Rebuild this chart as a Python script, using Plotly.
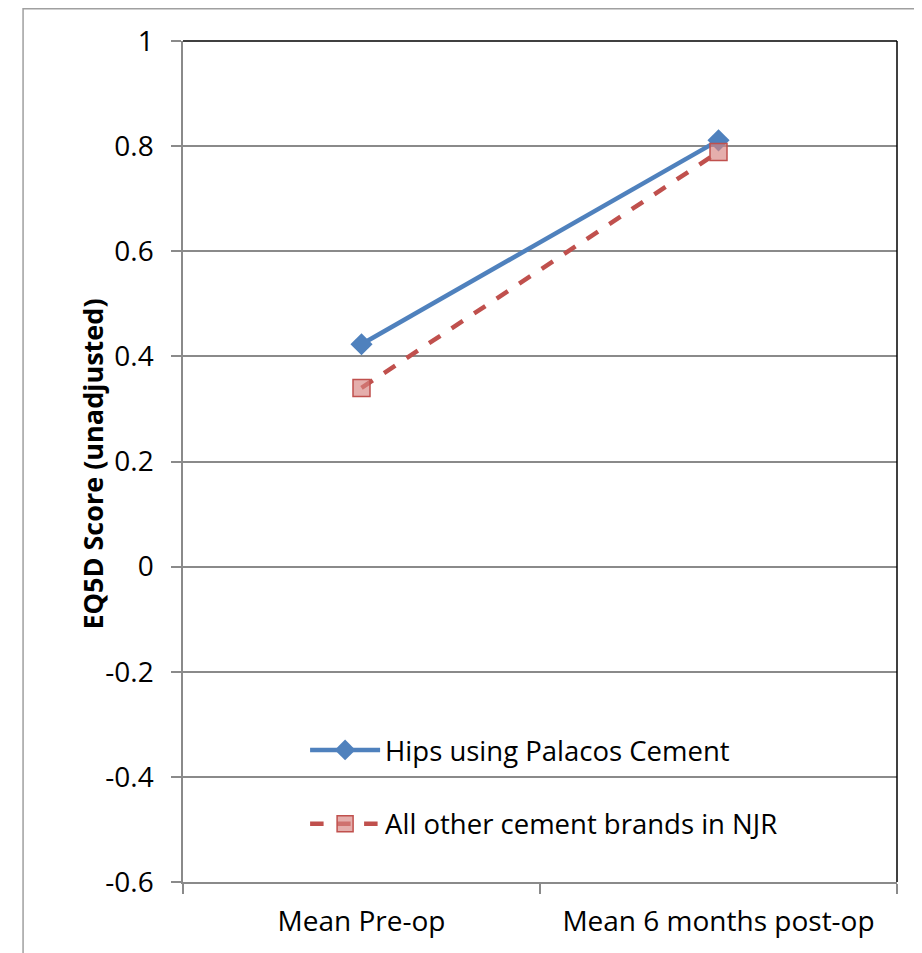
import plotly.graph_objects as go

categories = ["Mean Pre-op", "Mean 6 months post-op"]
palacos = [0.423, 0.811]
others = [0.340, 0.789]
series_names = ["Hips using Palacos Cement", "All other cement brands in NJR"]
y_ticks = [1, 0.8, 0.6, 0.4, 0.2, 0, -0.2, -0.4, -0.6]
y_labels = ["1", "0.8", "0.6", "0.4", "0.2", "0", "-0.2", "-0.4", "-0.6"]
y_title = "EQ5D Score (unadjusted)"

FONT = "Open Sans"
GRID = "#8a8a8a"
FS = 28

fig = go.Figure()
fig.add_trace(go.Scatter(
    x=categories, y=palacos, name=series_names[0], mode="lines+markers",
    line=dict(color="#4F81BD", width=4.5),
    marker=dict(symbol="diamond", size=17, color="#4F81BD", line=dict(width=0)),
    legendgroup="a",
))
fig.add_trace(go.Scatter(
    x=categories, y=others, name=series_names[1], mode="lines+markers",
    line=dict(color="#C0504D", width=4.5, dash="dash"),
    marker=dict(symbol="square", size=17, color="rgba(215,130,128,0.65)",
                line=dict(color="#C0504D", width=1.5)),
    legendgroup="b",
))

fig.update_layout(
    width=914, height=945,
    margin=dict(l=175, r=25, t=33, b=71),
    paper_bgcolor="white", plot_bgcolor="white",
    font=dict(family=FONT, size=FS, color="black"),
    showlegend=True,
    legend=dict(
        x=0.171, y=0.186, xanchor="left", yanchor="top",
        bgcolor="rgba(0,0,0,0)", borderwidth=0,
        font=dict(family=FONT, size=27.5, color="black"),
        tracegroupgap=35, itemwidth=70,
    ),
    xaxis=dict(
        type="category", range=[-0.5, 1.5], tickson="boundaries",
        showline=True, linecolor=GRID, linewidth=1.5,
        ticks="outside", ticklen=10, tickcolor=GRID, tickwidth=1.5,
        showgrid=False, tickfont=dict(family=FONT, size=FS),
        ticklabelstandoff=14, fixedrange=True,
    ),
    yaxis=dict(
        range=[-0.6, 1], tickvals=y_ticks, ticktext=y_labels,
        showline=True, linecolor=GRID, linewidth=1.5,
        ticks="outside", ticklen=10, tickcolor=GRID, tickwidth=1.5,
        showgrid=True, gridcolor=GRID, gridwidth=1.5,
        zeroline=False, tickfont=dict(family=FONT, size=FS),
        ticklabelstandoff=12,
    ),
    annotations=[
        dict(text="<b>" + y_title + "</b>", xref="paper", yref="paper",
             x=-0.1274, y=0.4964, xanchor="center", yanchor="middle",
             textangle=-90, showarrow=False,
             font=dict(family=FONT, size=27, color="black")),
    ],
    shapes=[
        dict(type="rect", xref="paper", yref="paper", x0=0.038, x1=0.983, y0=0.11, y1=0.14,
             line=dict(width=0), fillcolor="white", layer="between"),
        dict(type="line", xref="paper", yref="paper", x0=0, x1=1, y0=1, y1=1,
             line=dict(color="black", width=1.5)),
        dict(type="line", xref="paper", yref="paper", x0=1, x1=1, y0=0, y1=1,
             line=dict(color="black", width=1.5)),
        dict(type="rect", xref="paper", yref="paper", x0=-0.224, x1=1.2, y0=-0.3, y1=1 + 32.2 / 841,
             line=dict(color="#a0a0a0", width=1.5), fillcolor="rgba(0,0,0,0)", layer="below"),
    ],
)

fig.write_html("out.html")
